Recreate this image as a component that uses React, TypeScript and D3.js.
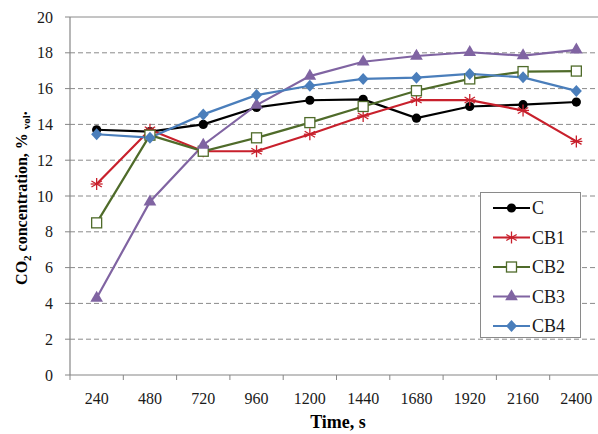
import React, { useEffect, useRef } from 'react';
import * as d3 from 'd3';

const times = ['240', '480', '720', '960', '1200', '1440', '1680', '1920', '2160', '2400'];
const yTicks = [0, 2, 4, 6, 8, 10, 12, 14, 16, 18, 20];

const seriesC = [13.7, 13.6, 14.0, 14.95, 15.35, 15.4, 14.35, 15.0, 15.1, 15.25];
const seriesCB1 = [10.67, 13.7, 12.5, 12.5, 13.45, 14.47, 15.36, 15.36, 14.78, 13.05];
const seriesCB2 = [8.5, 13.4, 12.5, 13.25, 14.1, 15.0, 15.88, 16.54, 16.95, 16.98];
const seriesCB3 = [4.3, 9.68, 12.85, 15.08, 16.7, 17.5, 17.82, 18.03, 17.84, 18.16];
const seriesCB4 = [13.45, 13.26, 14.56, 15.64, 16.16, 16.54, 16.61, 16.82, 16.63, 15.87];

const series = [
  { name: 'C', values: seriesC, color: '#000000', marker: 'circle' },
  { name: 'CB1', values: seriesCB1, color: '#c8202c', marker: 'asterisk' },
  { name: 'CB2', values: seriesCB2, color: '#4f6b2a', marker: 'square' },
  { name: 'CB3', values: seriesCB3, color: '#8064a2', marker: 'triangle' },
  { name: 'CB4', values: seriesCB4, color: '#4a7ebb', marker: 'diamond' },
];

const FONT = "'Liberation Serif', 'Times New Roman', serif";

function drawMarker(g: d3.Selection<SVGGElement, unknown, null, undefined>, kind: string, x: number, y: number, color: string) {
  if (kind === 'circle') {
    g.append('circle').attr('cx', x).attr('cy', y).attr('r', 4.6).attr('fill', color);
  } else if (kind === 'square') {
    g.append('rect').attr('x', x - 5).attr('y', y - 5).attr('width', 10).attr('height', 10)
      .attr('fill', '#ffffff').attr('stroke', color).attr('stroke-width', 1.3);
  } else if (kind === 'triangle') {
    g.append('path').attr('d', d3.symbol(d3.symbolTriangle, 70)()).attr('transform', `translate(${x},${y})`).attr('fill', color);
  } else if (kind === 'diamond') {
    g.append('path').attr('d', `M${x},${y - 6}L${x + 5.5},${y}L${x},${y + 6}L${x - 5.5},${y}Z`).attr('fill', color);
  } else {
    const r = 6;
    [0, 60, 120].forEach(a => {
      const rad = (a * Math.PI) / 180;
      g.append('line')
        .attr('x1', x - r * Math.sin(rad)).attr('y1', y - r * Math.cos(rad))
        .attr('x2', x + r * Math.sin(rad)).attr('y2', y + r * Math.cos(rad))
        .attr('stroke', color).attr('stroke-width', 1.3);
    });
    g.append('line').attr('x1', x - r).attr('x2', x + r).attr('y1', y).attr('y2', y)
      .attr('stroke', color).attr('stroke-width', 1.3);
  }
}

export default function App() {
  const ref = useRef<SVGSVGElement>(null);

  useEffect(() => {
    if (!ref.current) return;
    const svg = d3.select(ref.current);
    svg.selectAll('*').remove();

    const left = 70, right = 603, top = 17, bottom = 375;

    const x = d3.scaleBand<string>().domain(times).range([left, right]);
    const y = d3.scaleLinear().domain([0, 20]).range([bottom, top]);
    const cx = (t: string) => (x(t) as number) + x.bandwidth() / 2;

    // grid
    svg.append('g').selectAll('line')
      .data(yTicks.filter(v => v > 0 && v < 20))
      .enter().append('line')
      .attr('x1', left).attr('x2', right)
      .attr('y1', d => y(d)).attr('y2', d => y(d))
      .attr('stroke', '#8a8a8a').attr('stroke-width', 1).attr('stroke-dasharray', '5 3');

    svg.append('line').attr('x1', left).attr('x2', right).attr('y1', y(20)).attr('y2', y(20))
      .attr('stroke', '#8a8a8a').attr('stroke-width', 1);

    // y axis
    svg.append('line').attr('x1', left).attr('x2', left).attr('y1', top).attr('y2', bottom)
      .attr('stroke', '#868686').attr('stroke-width', 1.2);
    svg.append('g').selectAll('line').data(yTicks).enter().append('line')
      .attr('x1', left - 5).attr('x2', left).attr('y1', d => y(d)).attr('y2', d => y(d))
      .attr('stroke', '#868686');
    svg.append('g').selectAll('text').data(yTicks).enter().append('text')
      .attr('x', 53).attr('y', d => y(d)).attr('dy', '0.35em').attr('text-anchor', 'end')
      .style('font-family', FONT).style('font-size', '16px').attr('fill', '#1a1a1a')
      .text(d => String(d));

    // x axis
    svg.append('line').attr('x1', left).attr('x2', right).attr('y1', bottom).attr('y2', bottom)
      .attr('stroke', '#868686').attr('stroke-width', 1.2);
    const edges = times.map(t => x(t) as number).concat([right]);
    svg.append('g').selectAll('line').data(edges).enter().append('line')
      .attr('x1', d => d).attr('x2', d => d).attr('y1', bottom).attr('y2', bottom + 5)
      .attr('stroke', '#868686');
    svg.append('g').selectAll('text').data(times).enter().append('text')
      .attr('x', d => cx(d)).attr('y', 404).attr('text-anchor', 'middle')
      .style('font-family', FONT).style('font-size', '16px').attr('fill', '#1a1a1a')
      .text(d => d);

    // titles
    svg.append('text').attr('x', 338).attr('y', 428).attr('text-anchor', 'middle')
      .style('font-family', FONT).style('font-size', '18px').style('font-weight', 'bold')
      .text('Time, s');

    const yt = svg.append('text')
      .attr('transform', 'translate(27,198) rotate(-90)')
      .attr('text-anchor', 'middle')
      .style('font-family', FONT).style('font-size', '16px').style('font-weight', 'bold');
    yt.append('tspan').text('CO');
    yt.append('tspan').style('font-size', '11px').attr('dy', 4).text('2');
    yt.append('tspan').attr('dy', -4).text(' concentration, % ');
    yt.append('tspan').style('font-size', '11px').attr('dy', 3).text('vol');
    yt.append('tspan').attr('dy', -3).text('.');

    // series
    const line = d3.line<number>().x((_, i) => cx(times[i])).y(d => y(d));
    series.forEach(s => {
      svg.append('path').datum(s.values).attr('d', line)
        .attr('fill', 'none').attr('stroke', s.color).attr('stroke-width', 2.2);
    });
    series.forEach(s => {
      const g = svg.append('g');
      s.values.forEach((v, i) => drawMarker(g, s.marker, cx(times[i]), y(v), s.color));
    });

    // legend
    const lg = svg.append('g');
    lg.append('rect').attr('x', 480.5).attr('y', 192.5).attr('width', 100).attr('height', 145)
      .attr('fill', '#ffffff').attr('stroke', '#8a8a8a').attr('stroke-width', 1);
    series.forEach((s, i) => {
      const ly = 208 + i * 29.5;
      lg.append('line').attr('x1', 493).attr('x2', 530).attr('y1', ly).attr('y2', ly)
        .attr('stroke', s.color).attr('stroke-width', 2.2);
      drawMarker(lg, s.marker, 511.5, ly, s.color);
      lg.append('text').attr('x', 532).attr('y', ly).attr('dy', '0.35em')
        .style('font-family', FONT).style('font-size', '18px').attr('fill', '#1a1a1a')
        .text(s.name);
    });
  }, []);

  return (
    <svg ref={ref} width={598} height={434}
      style={{ position: 'absolute', left: 0, top: 0, background: '#ffffff' }} />
  );
}
